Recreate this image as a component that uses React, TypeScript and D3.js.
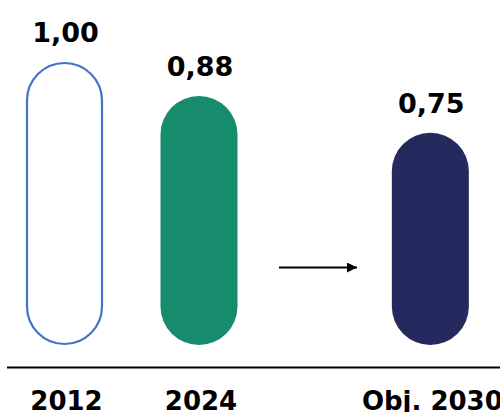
import React from "react";
import * as d3 from "d3";

const categories = ["2012", "2024", "Obj. 2030"];
const values = [1.0, 0.88, 0.75];
const valueLabels = ["1,00", "0,88", "0,75"];

const W = 500;
const H = 412;
const slots = [0, 1, 2.72];
const barW = 77;
const baseY = 345;
const FONT = "'DejaVu Sans', sans-serif";

export default function App() {
  const x = d3.scaleLinear().domain([0, 1]).range([64.5, 199]);
  const y = d3.scaleLinear().domain([0, 1]).range([baseY, baseY - 283]);

  const pill = (cx: number, top: number, bottom: number, inset = 0) => {
    const r = barW / 2 - inset;
    const t = top + inset;
    const b = bottom - inset;
    const p = d3.path();
    p.moveTo(cx - r, t + r);
    p.arc(cx, t + r, r, Math.PI, 0);
    p.lineTo(cx + r, b - r);
    p.arc(cx, b - r, r, 0, Math.PI);
    p.closePath();
    return p.toString();
  };

  const styles = [
    { fill: "#ffffff", stroke: "#4472C4" },
    { fill: "#178C6C", stroke: "none" },
    { fill: "#252A5E", stroke: "none" },
  ];

  return (
    <svg width={W} height={H} style={{ position: "absolute", left: 0, top: 0 }}>
      <defs>
        <marker id="ah" viewBox="0 0 10 10" refX="10" refY="5" markerWidth="6" markerHeight="5" markerUnits="strokeWidth" orient="auto">
          <path d="M0,0 L10,5 L0,10 z" fill="#000" />
        </marker>
      </defs>
      {categories.map((c, i) => {
        const cx = x(slots[i]);
        const top = y(values[i]);
        const s = styles[i];
        return (
          <g key={c}>
            <path
              d={pill(cx, top, baseY, s.stroke === "none" ? 0 : 1)}
              fill={s.fill}
              stroke={s.stroke}
              strokeWidth={2.2}
            />
            <text x={cx + 1} y={top - 20} textAnchor="middle" fontFamily={FONT} fontWeight="bold" fontSize={27} fill="#000">
              {valueLabels[i]}
            </text>
            <text x={cx + 2} y={410} textAnchor="middle" fontFamily={FONT} fontWeight="bold" fontSize={26} fill="#000">
              {c}
            </text>
          </g>
        );
      })}
      <line x1={7} x2={W} y1={367.5} y2={367.5} stroke="#000" strokeWidth={2} />
      <line x1={279} x2={357} y1={267.5} y2={267.5} stroke="#000" strokeWidth={2} markerEnd="url(#ah)" />
    </svg>
  );
}
